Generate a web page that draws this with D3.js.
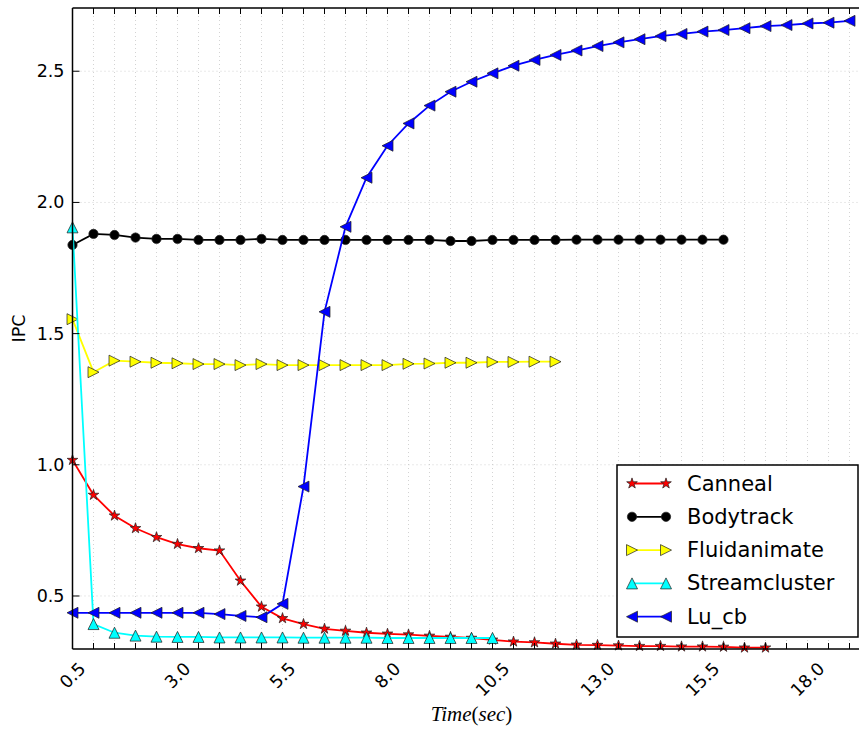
<!DOCTYPE html>
<html>
<head>
<meta charset="utf-8">
<script src="https://cdn.jsdelivr.net/npm/d3@7"></script>
<style>
  html, body { margin: 0; padding: 0; background: #fff; }
  svg { display: block; }
  text { font-family: "DejaVu Sans", sans-serif; fill: #000; }
</style>
</head>
<body>
<svg id="chart" width="859" height="731"></svg>
<script>
// Sampling instants (seconds)
const time = [0.5, 1.0, 1.5, 2.0, 2.5, 3.0, 3.5, 4.0, 4.5, 5.0, 5.5, 6.0, 6.5, 7.0, 7.5, 8.0,
  8.5, 9.0, 9.5, 10.0, 10.5, 11.0, 11.5, 12.0, 12.5, 13.0, 13.5, 14.0, 14.5, 15.0, 15.5, 16.0,
  16.5, 17.0, 17.5, 18.0, 18.5, 19.0];

// IPC per benchmark
const canneal = [1.018, 0.885, 0.806, 0.758, 0.724, 0.698, 0.682, 0.673, 0.558, 0.459, 0.415,
  0.393, 0.375, 0.367, 0.360, 0.356, 0.353, 0.348, 0.344, 0.340, 0.333, 0.326, 0.323, 0.318,
  0.314, 0.313, 0.311, 0.309, 0.309, 0.307, 0.307, 0.306, 0.303, 0.303];
const bodytrack = [1.838, 1.880, 1.876, 1.866, 1.861, 1.861, 1.857, 1.857, 1.857, 1.861, 1.857,
  1.857, 1.857, 1.857, 1.857, 1.857, 1.857, 1.857, 1.853, 1.853, 1.857, 1.857, 1.857, 1.857,
  1.858, 1.858, 1.858, 1.858, 1.858, 1.858, 1.858, 1.858];
const fluidanimate = [1.555, 1.353, 1.397, 1.393, 1.389, 1.387, 1.384, 1.384, 1.380, 1.384,
  1.380, 1.380, 1.380, 1.380, 1.380, 1.380, 1.385, 1.386, 1.389, 1.389, 1.392, 1.392, 1.393, 1.393];
const streamcluster = [1.905, 0.393, 0.360, 0.349, 0.345, 0.344, 0.344, 0.342, 0.342, 0.342,
  0.342, 0.341, 0.341, 0.341, 0.341, 0.340, 0.340, 0.340, 0.340, 0.340, 0.340];
const luCb = [0.436, 0.436, 0.436, 0.436, 0.436, 0.436, 0.436, 0.431, 0.424, 0.419, 0.470,
  0.917, 1.583, 1.907, 2.094, 2.216, 2.301, 2.369, 2.422, 2.460, 2.492, 2.521, 2.543, 2.562,
  2.579, 2.596, 2.610, 2.622, 2.634, 2.642, 2.651, 2.657, 2.664, 2.672, 2.676, 2.682, 2.685, 2.692];

const seriesNames = ["Canneal", "Bodytrack", "Fluidanimate", "Streamcluster", "Lu_cb"];
const seriesColors = ["#ff0000", "#000000", "#ffff00", "#00ffff", "#0000ff"];
const seriesMarkers = ["star", "circle", "triangleRight", "triangleUp", "triangleLeft"];
const seriesValues = [canneal, bodytrack, fluidanimate, streamcluster, luCb];

const yTicks = [0.5, 1.0, 1.5, 2.0, 2.5];
const yTickLabels = ["0.5", "1.0", "1.5", "2.0", "2.5"];
const xLabelTicks = [0.5, 3.0, 5.5, 8.0, 10.5, 13.0, 15.5, 18.0];
const xTickLabels = ["0.5", "3.0", "5.5", "8.0", "10.5", "13.0", "15.5", "18.0"];

const svg = d3.select("#chart");
const plot = { left: 72.5, right: 870.5, top: 8, bottom: 649 };

const x = d3.scaleLinear().domain([0.5, 19.5]).range([plot.left, plot.right]);
const y = d3.scaleLinear().domain([0.298, 2.741]).range([plot.bottom, plot.top]);

// Grid
const grid = svg.append("g").attr("stroke", "#c8c8c8").attr("stroke-width", 0.8)
  .attr("stroke-dasharray", "1,3");
grid.selectAll("line.vx").data(time).join("line")
  .attr("x1", d => x(d)).attr("x2", d => x(d))
  .attr("y1", plot.top).attr("y2", plot.bottom);
grid.selectAll("line.hy").data(yTicks).join("line")
  .attr("x1", plot.left).attr("x2", 859)
  .attr("y1", d => y(d)).attr("y2", d => y(d));

// Marker shapes
function markerPath(kind) {
  const h = 5.5;
  switch (kind) {
    case "circle": return d3.symbol(d3.symbolCircle, 68)();
    case "triangleUp": return `M0,${-h}L${-h},${h}L${h},${h}Z`;
    case "triangleRight": return `M${h},0L${-h},${h}L${-h},${-h}Z`;
    case "triangleLeft": return `M${-h},0L${h},${-h}L${h},${h}Z`;
    case "star": {
      const R = 5.6, r = R * 0.381966;
      let p = "";
      for (let i = 0; i < 10; i++) {
        const a = -Math.PI / 2 + i * Math.PI / 5;
        const rr = i % 2 === 0 ? R : r;
        p += (i === 0 ? "M" : "L") + (rr * Math.cos(a)).toFixed(3) + "," + (rr * Math.sin(a)).toFixed(3);
      }
      return p + "Z";
    }
  }
}

// Series
const clip = svg.append("clipPath").attr("id", "plotclip").append("rect")
  .attr("x", plot.left - 8).attr("y", plot.top - 8)
  .attr("width", plot.right - plot.left + 16).attr("height", plot.bottom - plot.top + 16);

const line = d3.line().x(d => x(d[0])).y(d => y(d[1]));
const seriesG = svg.append("g").attr("clip-path", "url(#plotclip)");
seriesValues.forEach((vals, i) => {
  const pts = vals.map((v, k) => [time[k], v]);
  const g = seriesG.append("g");
  g.append("path").datum(pts).attr("d", line)
    .attr("fill", "none").attr("stroke", seriesColors[i]).attr("stroke-width", 1.8);
  g.selectAll("path.m").data(pts).join("path")
    .attr("class", "m")
    .attr("d", markerPath(seriesMarkers[i]))
    .attr("transform", d => `translate(${x(d[0])},${y(d[1])})`)
    .attr("fill", seriesColors[i])
    .attr("stroke", "#222").attr("stroke-opacity", 0.8).attr("stroke-width", 0.9);
});

// Frame
const frame = svg.append("g").attr("stroke", "#000").attr("stroke-width", 1.5).attr("fill", "none");
frame.append("line").attr("x1", plot.left).attr("x2", plot.left).attr("y1", plot.top).attr("y2", plot.bottom);
frame.append("line").attr("x1", plot.left).attr("x2", 859).attr("y1", plot.bottom).attr("y2", plot.bottom);
frame.append("line").attr("x1", plot.left).attr("x2", 859).attr("y1", plot.top).attr("y2", plot.top);

// Inward ticks
const ticks = svg.append("g").attr("stroke", "#000").attr("stroke-width", 1);
ticks.selectAll("line.b").data(time).join("line")
  .attr("x1", d => x(d)).attr("x2", d => x(d)).attr("y1", plot.bottom).attr("y2", plot.bottom - 6);
ticks.selectAll("line.t").data(time).join("line")
  .attr("x1", d => x(d)).attr("x2", d => x(d)).attr("y1", plot.top).attr("y2", plot.top + 6);
ticks.selectAll("line.l").data(yTicks).join("line")
  .attr("x1", plot.left).attr("x2", plot.left + 7).attr("y1", d => y(d)).attr("y2", d => y(d));

// Y tick labels
svg.append("g").selectAll("text").data(yTicks).join("text")
  .attr("x", plot.left - 8).attr("y", d => y(d))
  .attr("text-anchor", "end").attr("dominant-baseline", "central")
  .attr("font-size", 17.5)
  .text((d, i) => yTickLabels[i]);

// X tick labels, rotated 45 degrees and centred under their ticks
const xl = svg.append("g");
xLabelTicks.forEach((t, i) => {
  const txt = xl.append("text").attr("font-size", 17.5)
    .attr("text-anchor", "middle").attr("dominant-baseline", "central")
    .text(xTickLabels[i]);
  const w = txt.node().getComputedTextLength();
  const h = 13;
  const half = (w + h) * Math.SQRT1_2 / 2;
  txt.attr("transform", `translate(${x(t)},${plot.bottom + 12 + half}) rotate(-45)`);
});

// Axis titles
svg.append("text").attr("transform", `translate(19,${(plot.top + plot.bottom) / 2}) rotate(-90)`)
  .attr("text-anchor", "middle").attr("dominant-baseline", "central")
  .attr("font-size", 17.5).text("IPC");

const xt = svg.append("text").attr("x", (plot.left + plot.right) / 2).attr("y", 721)
  .attr("text-anchor", "middle").attr("font-size", 21)
  .style("font-family", "'Liberation Serif', serif");
xt.append("tspan").attr("font-style", "italic").text("Time");
xt.append("tspan").text("(");
xt.append("tspan").attr("font-style", "italic").text("sec");
xt.append("tspan").text(")");

// Legend
const lg = svg.append("g");
lg.append("rect").attr("x", 617).attr("y", 465).attr("width", 241).attr("height", 172)
  .attr("fill", "#fff").attr("stroke", "#000").attr("stroke-width", 1.5);
seriesNames.forEach((name, i) => {
  const cy = 483.5 + i * 33.3;
  const row = lg.append("g");
  row.append("line").attr("x1", 632).attr("x2", 666).attr("y1", cy).attr("y2", cy)
    .attr("stroke", seriesColors[i]).attr("stroke-width", 1.8);
  [632, 666].forEach(mx => {
    row.append("path").attr("d", markerPath(seriesMarkers[i]))
      .attr("transform", `translate(${mx},${cy})`)
      .attr("fill", seriesColors[i])
      .attr("stroke", "#222").attr("stroke-opacity", 0.8).attr("stroke-width", 0.9);
  });
  row.append("text").attr("x", 687).attr("y", cy).attr("dominant-baseline", "central")
    .attr("font-size", 21).text(name);
});
</script>
</body>
</html>
